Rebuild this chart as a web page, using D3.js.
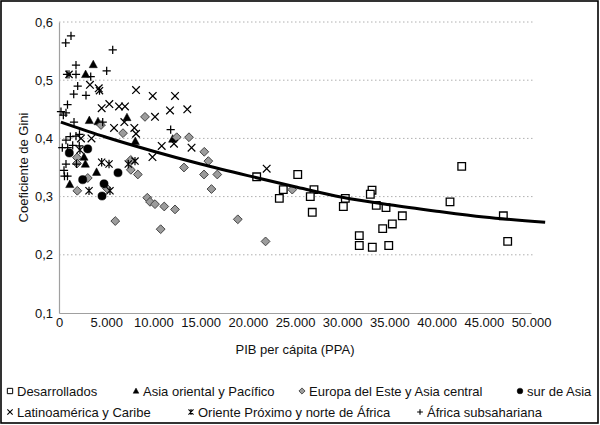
<!DOCTYPE html>
<html><head><meta charset="utf-8">
<script src="https://cdn.jsdelivr.net/npm/d3@7"></script>
<style>body{margin:0;background:#fff}svg{display:block;font-family:"Liberation Sans",Arial,Helvetica,sans-serif}</style>
</head><body><svg id="c" width="600" height="425"></svg>
<script>
// ---- data ----
const xTickValues = [0,5000,10000,15000,20000,25000,30000,35000,40000,45000,50000];
const xTickLabels = ["0","5.000","10.000","15.000","20.000","25.000","30.000","35.000","40.000","45.000","50.000"];
const yTickValues = [0.1,0.2,0.3,0.4,0.5,0.6];
const yTickLabels = ["0,1","0,2","0,3","0,4","0,5","0,6"];

const desarrolladosX = [20940,25290,23760,23340,27010,26620,26830,30330,30120,33160,32980,33610,34640,36370,35310,34290,31810,31810,33190,34930,41420,42660,47070,47530];
const desarrolladosY = [0.334,0.338,0.312,0.297,0.312,0.300,0.273,0.297,0.283,0.311,0.304,0.285,0.281,0.267,0.253,0.245,0.233,0.216,0.213,0.216,0.291,0.352,0.267,0.223];

const asiaOrientalX = [3630,2820,3210,4130,7200,8080,2650,2790,3980,1140,12040];
const asiaOrientalY = [0.527,0.510,0.431,0.429,0.436,0.395,0.368,0.356,0.342,0.321,0.399];

const europaX = [1910,1910,3050,1940,4450,5080,5960,6780,7600,7610,8350,9110,9350,9640,10170,10770,11150,12290,12470,13770,13240,15390,15820,15360,16770,16150,18940,21880,24710];
const europaY = [0.367,0.357,0.332,0.310,0.423,0.314,0.258,0.409,0.363,0.346,0.338,0.437,0.298,0.291,0.287,0.244,0.283,0.278,0.402,0.402,0.350,0.377,0.361,0.338,0.338,0.313,0.261,0.223,0.312];

const surAsiaX = [1090,3040,2510,4770,4560,6250];
const surAsiaY = [0.375,0.382,0.329,0.322,0.301,0.341];

const latinoX = [3280,4210,8160,4520,5330,6360,6990,9930,12290,11760,13590,10170,5830,6920,7980,8160,10880,12180,14040,9900,22000,3440,2330];
const latinoY = [0.492,0.486,0.483,0.452,0.459,0.455,0.455,0.473,0.473,0.448,0.450,0.437,0.418,0.428,0.418,0.408,0.387,0.391,0.384,0.368,0.348,0.400,0.400];

const orienteX = [1060,4520,5300,7340,8050,3180,5400,4290,2220];
const orienteY = [0.510,0.359,0.356,0.356,0.361,0.310,0.310,0.482,0.380];

const africaX = [710,1270,5690,1800,5050,1800,3360,850,1980,1560,2860,900,210,740,460,1590,4630,11830,1800,1200,740,1450,920,2150,350,740,530,580,900,1850,2170];
const africaY = [0.564,0.576,0.552,0.526,0.516,0.510,0.506,0.510,0.490,0.476,0.474,0.458,0.446,0.444,0.440,0.428,0.428,0.415,0.404,0.403,0.397,0.388,0.384,0.387,0.384,0.356,0.345,0.335,0.335,0.356,0.407];

const trendX = [200,5000,10000,15000,20000,25000,30000,35000,40000,45000,51500];
const trendY = [0.428,0.402,0.378,0.356,0.336,0.317,0.299,0.286,0.275,0.265,0.256];

const seriesNames = ["Desarrollados","Asia oriental y Pacífico","Europa del Este y Asia central","sur de Asia","Latinoamérica y Caribe","Oriente Próximo y norte de África","África subsahariana"];

const xTitle = "PIB per cápita (PPA)";
const yTitle = "Coeficiente de Gini";

// ---- layout ----
const svg = d3.select("#c");
const L = 59, R = 531, T = 22, B = 313;
const x = d3.scaleLinear().domain([0,50000]).range([L,R]);
const y = d3.scaleLinear().domain([0.1,0.6]).range([B,T]);
const FONT = "Liberation Sans, Arial, sans-serif";

svg.append("rect").attr("x",1).attr("y",1).attr("width",597).attr("height",422)
  .attr("fill","#fff").attr("stroke","#000").attr("stroke-width",1.6);

// gridlines
svg.append("g").selectAll("line").data(yTickValues.filter(v=>v>0.1)).join("line")
  .attr("x1",L).attr("x2",533).attr("y1",d=>y(d)).attr("y2",d=>y(d))
  .attr("stroke","#b0b0b0").attr("stroke-width",1).attr("stroke-dasharray","1.5,2.5");

// axes
const xAxis = d3.axisBottom(x).tickValues(xTickValues).tickFormat((d,i)=>xTickLabels[i]).tickSize(0).tickPadding(5);
const gx = svg.append("g").attr("transform",`translate(0,${B})`).call(xAxis);
gx.select(".domain").attr("stroke","#a0a0a0").attr("stroke-width",1.2);
gx.selectAll("text").attr("font-size",13).attr("fill","#111").attr("font-family",FONT);

const yAxis = d3.axisLeft(y).tickValues(yTickValues).tickFormat((d,i)=>yTickLabels[i]).tickSize(0).tickPadding(6);
const gy = svg.append("g").attr("transform",`translate(${L},0)`).call(yAxis);
gy.select(".domain").attr("stroke","#a0a0a0").attr("stroke-width",1.2);
gy.selectAll("text").attr("font-size",13).attr("fill","#111").attr("font-family",FONT);

// titles
svg.append("text").attr("x",(L+R)/2).attr("y",354).attr("text-anchor","middle")
  .attr("font-size",13).attr("font-family",FONT).attr("fill","#111").text(xTitle);
svg.append("text").attr("transform",`translate(28,${(T+B)/2}) rotate(-90)`).attr("text-anchor","middle")
  .attr("font-size",13).attr("font-family",FONT).attr("fill","#111").text(yTitle);

// ---- symbols ----
function symPath(type, s){
  switch(type){
    case "plus": return `M${-s},0H${s}M0,${-s}V${s}`;
    case "x": return `M${-s},${-s}L${s},${s}M${-s},${s}L${s},${-s}`;
    case "star": return `M${-s},${-s}L${s},${s}M${-s},${s}L${s},${-s}M0,${-s*1.15}V${s*1.15}`;
    case "diamond": return `M0,${-s}L${s},0L0,${s}L${-s},0Z`;
    case "triangle": return `M0,${-s}L${s*0.95},${s*0.75}L${-s*0.95},${s*0.75}Z`;
    case "square": return `M${-s},${-s}H${s}V${s}H${-s}Z`;
    case "circle": return d3.symbol(d3.symbolCircle, Math.PI*s*s)();
  }
}
const styles = {
  square:  {fill:"#fff", stroke:"#000", sw:1.3, s:3.8},
  triangle:{fill:"#000", stroke:"#000", sw:0.5, s:4.3},
  diamond: {fill:"#9c9c9c", stroke:"#444", sw:1.0, s:4.4},
  circle:  {fill:"#000", stroke:"#000", sw:0.5, s:4.1},
  x:       {fill:"none", stroke:"#000", sw:1.25, s:3.8},
  star:    {fill:"none", stroke:"#000", sw:1.2, s:3.6},
  plus:    {fill:"none", stroke:"#000", sw:1.25, s:4.1}
};
const series = [
  {name:seriesNames[0], type:"square", xs:desarrolladosX, ys:desarrolladosY},
  {name:seriesNames[1], type:"triangle", xs:asiaOrientalX, ys:asiaOrientalY},
  {name:seriesNames[2], type:"diamond", xs:europaX, ys:europaY},
  {name:seriesNames[3], type:"circle", xs:surAsiaX, ys:surAsiaY},
  {name:seriesNames[4], type:"x", xs:latinoX, ys:latinoY},
  {name:seriesNames[5], type:"star", xs:orienteX, ys:orienteY},
  {name:seriesNames[6], type:"plus", xs:africaX, ys:africaY}
];

const gp = svg.append("g");
series.forEach(sr=>{
  const st = styles[sr.type];
  const pts = sr.xs.map((v,i)=>[v, sr.ys[i]]);
  gp.append("g").selectAll("path").data(pts).join("path")
    .attr("transform",d=>`translate(${x(d[0])},${y(d[1])})`)
    .attr("d",symPath(sr.type, st.s))
    .attr("fill",st.fill).attr("stroke",st.stroke).attr("stroke-width",st.sw);
});

// trend line
const trend = trendX.map((v,i)=>[v,trendY[i]]);
svg.append("path").datum(trend)
  .attr("d",d3.line().x(d=>x(d[0])).y(d=>y(d[1])).curve(d3.curveMonotoneX))
  .attr("fill","none").attr("stroke","#000").attr("stroke-width",3);

// ---- legend ----
const legendLayout = [
  {i:0, tx:17, row:0},{i:1, tx:143, row:0},{i:2, tx:309, row:0},{i:3, tx:527, row:0},
  {i:4, tx:17, row:1},{i:5, tx:198, row:1},{i:6, tx:427, row:1}
];
const rowY = [391, 412];
const gl = svg.append("g");
legendLayout.forEach(l=>{
  const sr = series[l.i], st = styles[sr.type];
  const cy = rowY[l.row];
  gl.append("path").attr("transform",`translate(${l.tx-7},${cy})`)
    .attr("d",symPath(sr.type, st.s*0.7))
    .attr("fill",st.fill).attr("stroke",st.stroke).attr("stroke-width",sr.type==="square"?1:st.sw*0.9);
  gl.append("text").attr("x",l.tx).attr("y",cy).attr("dy","0.35em")
    .attr("font-size",13).attr("font-family",FONT).attr("fill","#111").text(sr.name);
});
</script></body></html>
